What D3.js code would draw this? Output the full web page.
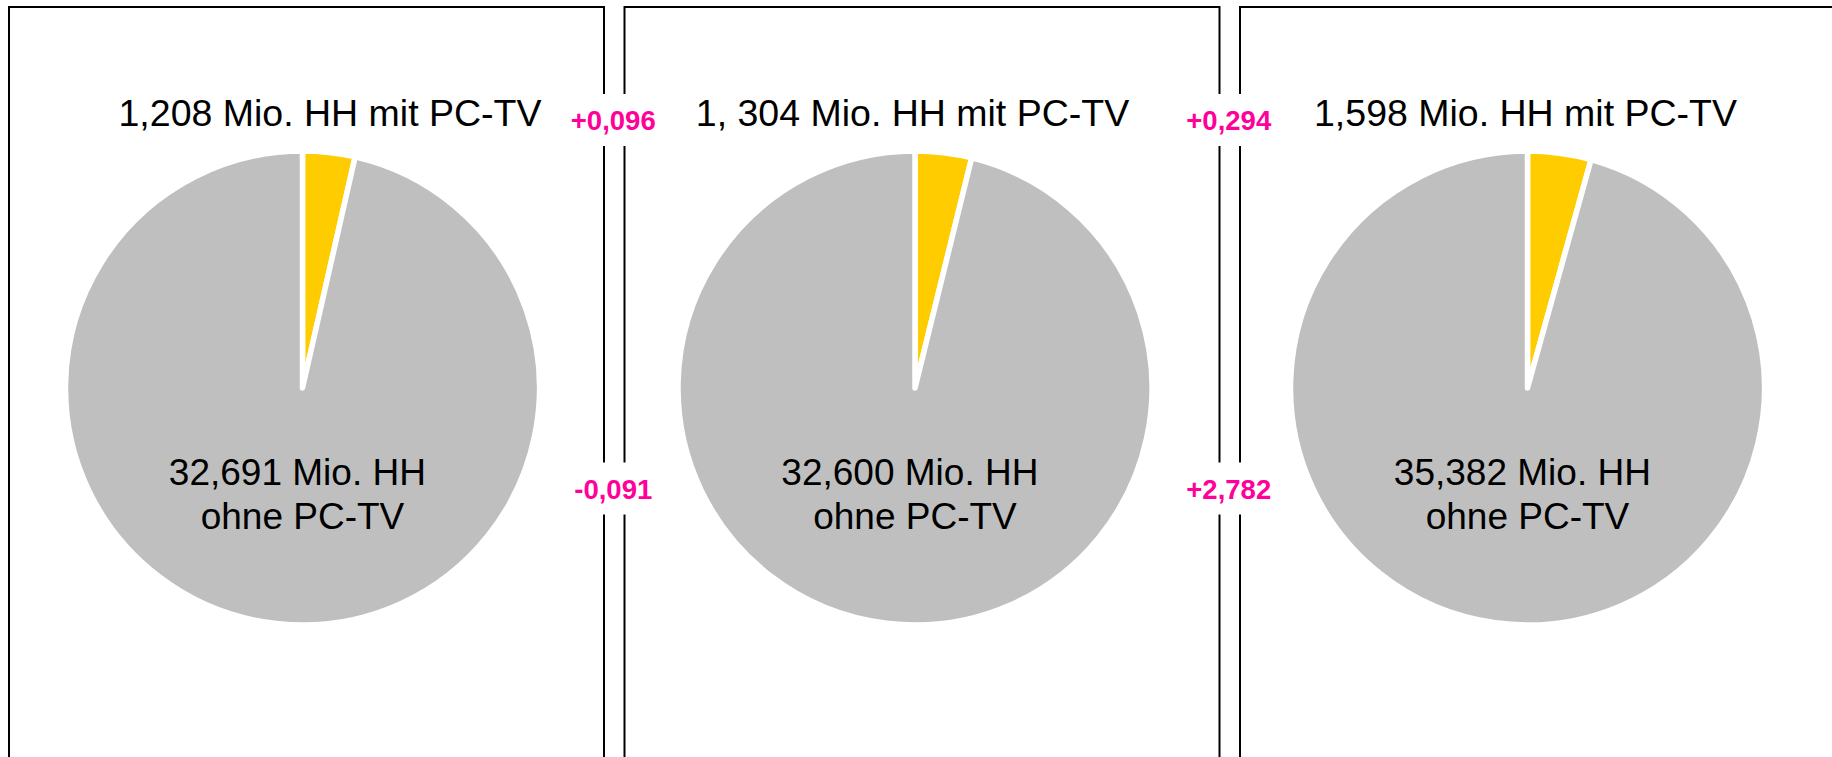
<!DOCTYPE html>
<html>
<head>
<meta charset="utf-8">
<script src="https://cdn.jsdelivr.net/npm/d3@7"></script>
<style>
  body { margin: 0; background: #fff; }
  text { font-family: "Liberation Sans", Arial, sans-serif; white-space: pre; }
</style>
</head>
<body>
<svg id="chartSvg" width="1832" height="757"></svg>
<script>
// values in Mio. households
var withPcTv = [1.208, 1.304, 1.598];
var withoutPcTv = [32.691, 32.600, 35.382];

var topLabels = ["1,208 Mio. HH mit PC-TV", "1, 304 Mio. HH mit PC-TV", "1,598 Mio. HH mit PC-TV"];
var bottomLabels = ["32,691 Mio. HH ", "32,600 Mio. HH ", "35,382 Mio. HH "];
var bottomLabels2 = ["ohne PC-TV", "ohne PC-TV", "ohne PC-TV"];

// changes between the panels
var changeWith = ["+0,096", "+0,294"];
var changeWithout = ["-0,091", "+2,782"];

var sliceColors = ["#FFCC00", "#BFBFBF"];
var magenta = "#FF0099";

var svg = d3.select("#chartSvg");
var width = +svg.attr("width");
var height = +svg.attr("height");

// layout
var boxX = d3.scaleLinear().domain([0, 1]).range([9, 624.5]);
var boxW = 595;
var boxTop = 7;
var pieX = d3.scaleLinear().domain([0, 1]).range([302.5, 915]);
var pieY = 388;
var radius = 237;
var titleShift = [27.5, -2.5, -2];

var pie = d3.pie().sort(null).value(function (d) { return d; });
var arc = d3.arc().innerRadius(0).outerRadius(radius);

// frames
svg.selectAll("rect.box")
    .data(withPcTv)
    .enter().append("rect")
    .attr("class", "box")
    .attr("x", function (d, i) { return boxX(i); })
    .attr("y", boxTop)
    .attr("width", boxW)
    .attr("height", height + 50)
    .attr("fill", "none")
    .attr("stroke", "#000")
    .attr("stroke-width", 2);

withPcTv.forEach(function (v, i) {
    var g = svg.append("g")
            .attr("transform", "translate(" + pieX(i) + "," + pieY + ")");

    g.selectAll("path")
            .data(pie([v, withoutPcTv[i]]))
            .enter().append("path")
            .attr("d", arc)
            .attr("fill", function (d, j) { return sliceColors[j]; })
            .attr("stroke", "#fff")
            .attr("stroke-width", 5.5)
            .attr("stroke-linejoin", "round");

    g.append("text")
            .attr("x", titleShift[i])
            .attr("y", -262)
            .attr("text-anchor", "middle")
            .attr("font-size", 37.5)
            .text(topLabels[i]);

    g.append("text")
            .attr("x", 0)
            .attr("y", 97)
            .attr("text-anchor", "middle")
            .attr("font-size", 37)
            .text(bottomLabels[i]);

    g.append("text")
            .attr("x", 0)
            .attr("y", 141)
            .attr("text-anchor", "middle")
            .attr("font-size", 37)
            .text(bottomLabels2[i]);
});

// change labels sitting in the gaps between frames
function changeLabel(txt, i, cy) {
    var cx = (boxX(i) + boxW + boxX(i + 1)) / 2 - 1;
    svg.append("rect")
            .attr("x", cx - 30)
            .attr("y", cy - 26)
            .attr("width", 60)
            .attr("height", 52)
            .attr("fill", "#fff");
    svg.append("text")
            .attr("x", cx)
            .attr("y", cy + 10)
            .attr("text-anchor", "middle")
            .attr("font-size", 27.5)
            .attr("font-weight", "bold")
            .attr("fill", magenta)
            .text(txt);
}

changeWith.forEach(function (t, i) { changeLabel(t, i, 120); });
changeWithout.forEach(function (t, i) { changeLabel(t, i, 488.5); });
</script>
</body>
</html>
